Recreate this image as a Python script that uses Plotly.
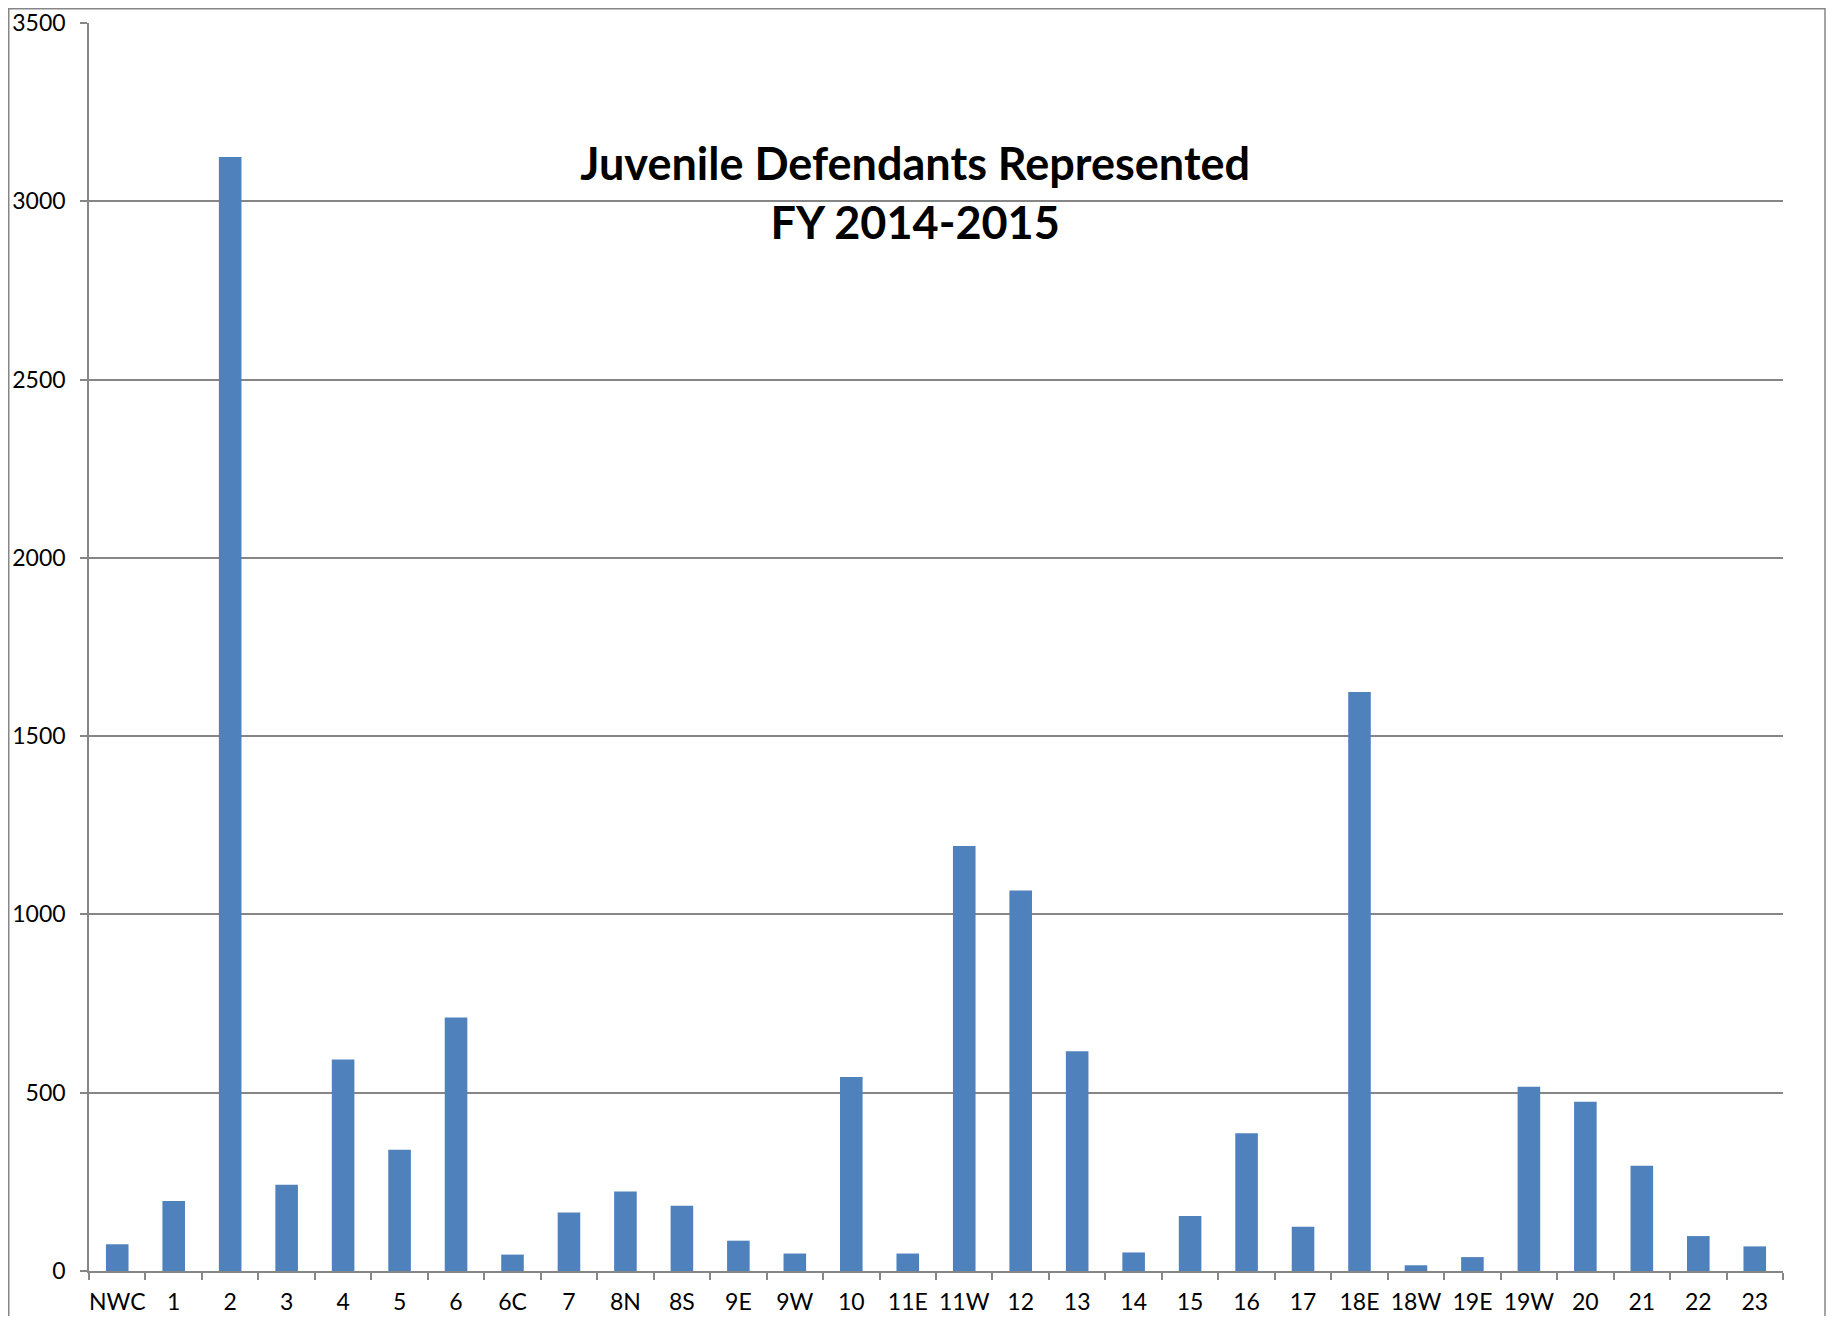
import plotly.graph_objects as go

categories = ["NWC", "1", "2", "3", "4", "5", "6", "6C", "7", "8N", "8S", "9E", "9W", "10",
              "11E", "11W", "12", "13", "14", "15", "16", "17", "18E", "18W", "19E", "19W",
              "20", "21", "22", "23"]
values = [75, 196, 3124, 242, 593, 340, 711, 46, 164, 223, 183, 85, 49, 544,
          49, 1192, 1067, 616, 52, 154, 386, 124, 1624, 16, 39, 517,
          475, 295, 98, 69]
y_ticks = [0, 500, 1000, 1500, 2000, 2500, 3000, 3500]

# the page has an 8px body margin, so the figure is sized to fit inside it
W, H = 1818, 1308
ML, MR, MT, MB = 81, 43, 15, 45
pw, ph = W - ML - MR, H - MT - MB

fig = go.Figure(go.Bar(x=categories, y=values, marker=dict(color="#4F81BD", line=dict(width=0)),
                       width=0.4))

font = "Lato, 'Open Sans', sans-serif"
fig.update_layout(
    width=W, height=H,
    margin=dict(l=ML, r=MR, t=MT, b=MB, autoexpand=False),
    paper_bgcolor="white", plot_bgcolor="white",
    showlegend=False,
    font=dict(family=font, color="black", size=23),
    title=dict(text="<b>Juvenile Defendants Represented<br>FY 2014-2015</b>",
               xref="container", x=0.499, xanchor="center",
               yref="container", y=1 - 172 / H, yanchor="top",
               font=dict(family=font, size=45, color="black")),
    xaxis=dict(type="category", showgrid=False, showline=True, linecolor="#868686", linewidth=1.5,
               ticks="outside", ticklen=7, tickcolor="#868686", tickwidth=1.5,
               tickson="boundaries", tickfont=dict(size=23), tickangle=0, automargin=False,
               ticklabelstandoff=10, range=[-0.5, len(categories) - 0.5]),
    yaxis=dict(range=[0, 3500], tickvals=y_ticks, showgrid=True, gridcolor="#868686", gridwidth=1.5,
               showline=True, linecolor="#868686", linewidth=1.5, zeroline=False,
               ticks="outside", ticklen=7, tickcolor="#868686", tickwidth=1.5,
               tickfont=dict(size=23), ticklabelstandoff=10, automargin=False,
               ticklabeloverflow="allow"),
)

# outer chart border (left/top/right edges of the chart frame)
x0 = (0.75 - ML) / pw
x1 = (W - 1 - ML) / pw
y1 = (H - MB - 0.75) / ph
y0 = (H - MB - 1340) / ph
fig.add_shape(type="rect", xref="paper", yref="paper", x0=x0, x1=x1, y0=y0, y1=y1,
              line=dict(color="#868686", width=1.5), layer="below")

fig.write_html("out.html")
